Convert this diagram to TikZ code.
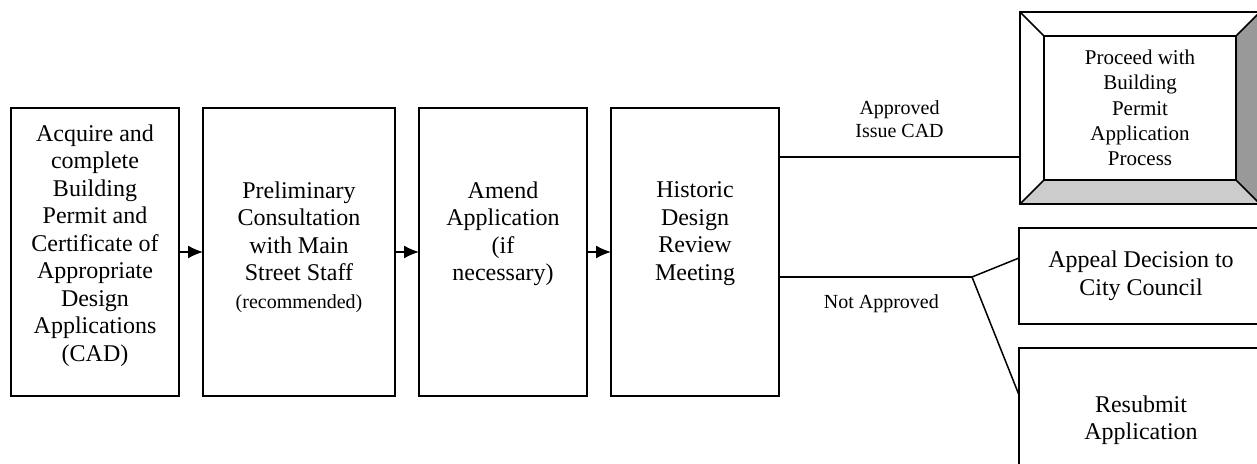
\documentclass[tikz,border=0pt]{standalone}
\usepackage{fontspec}
\setmainfont{Liberation Serif}
\usetikzlibrary{positioning,arrows.meta,calc}

\begin{document}
\begin{tikzpicture}[x=0.5pt, y=0.5pt, >={Latex[length=7.5pt,width=6.5pt]}, line width=0.75pt, every node/.style={font=\fontsize{12}{13.75}\selectfont}]
\tikzstyle{stage}=[rectangle, draw, line width=1.1pt, minimum width=84pt, minimum height=144pt, inner sep=0pt, outer sep=0pt]
\tikzstyle{stagetext}=[align=center, inner sep=0pt]
\tikzstyle{outcome}=[rectangle, draw, line width=1.1pt, minimum width=122pt, align=center, inner sep=0pt, outer sep=0pt]
\tikzstyle{tag}=[align=center, font=\fontsize{10}{11.5}\selectfont]

\useasboundingbox (0,0) rectangle (1257,464);
\clip (0,0) rectangle (1257,464);

% Review stages, left to right
\node[stage] (acquire) at (95,212) {};
\node[stage, minimum width=96pt, right=12pt of acquire] (consult) {};
\node[stage, right=12pt of consult] (amend) {};
\node[stage, right=12pt of amend] (review) {};

\node[stagetext, below=8pt of acquire.north] (acquiretxt) {Acquire and\\complete\\Building\\Permit and\\Certificate of\\Appropriate\\Design\\Applications\\(CAD)};
\node[stagetext, below=36.5pt of consult.north] (consulttxt) {Preliminary\\Consultation\\with Main\\Street Staff\\{\fontsize{10}{12}\selectfont (recommended)}};
\node[stagetext, below=36.5pt of amend.north] (amendtxt) {Amend\\Application\\(if\\necessary)};
\node[stagetext, below=36.5pt of review.north] (reviewtxt) {Historic\\Design\\Review\\Meeting};

\draw[->] (acquire) -- (consult);
\draw[->] (consult) -- (amend);
\draw[->] (amend) -- (review);

% Outcomes
\node[rectangle, minimum width=120pt, minimum height=96pt, inner sep=0pt, outer sep=0pt] (frame) at (1140,356) {};
\node[rectangle, minimum width=96pt, minimum height=72pt, inner sep=0pt, outer sep=0pt, align=center, font=\fontsize{10.5}{12.7}\selectfont] (proceed) at (frame.center) {Proceed with\\Building\\Permit\\Application\\Process};
\fill[black!40] (frame.north east) -- (proceed.north east) -- (proceed.south east) -- (frame.south east) -- cycle;
\fill[black!20] (frame.south west) -- (proceed.south west) -- (proceed.south east) -- (frame.south east) -- cycle;
\draw[line width=1.1pt] (frame.north west) rectangle (frame.south east);
\draw[line width=1.1pt] (proceed.north west) rectangle (proceed.south east);
\foreach \c in {north west, north east, south west, south east}
  \draw (frame.\c) -- (proceed.\c);

\node[outcome, minimum height=48pt] (appeal) at (1141,188) {Appeal Decision to\\City Council};
\node[outcome, minimum height=72pt] (resubmit) at (1141,44) {Resubmit\\Application};

% Decision lines
\draw ([yshift=47.5pt]review.east) -- node[tag, above=6pt] (approved) {Approved\\Issue CAD} ([yshift=47.5pt]review.east -| frame.west);
\coordinate (split) at ($(review.east)+(96.5pt,-12.5pt)$);
\draw ([yshift=-12.5pt]review.east) -- node[tag, below=5pt, pos=0.53] (notapproved) {Not Approved} (split);
\draw (split) -- ([yshift=9pt]appeal.west);
\draw (split) -- ([yshift=12.5pt]resubmit.west);
\end{tikzpicture}
\end{document}
